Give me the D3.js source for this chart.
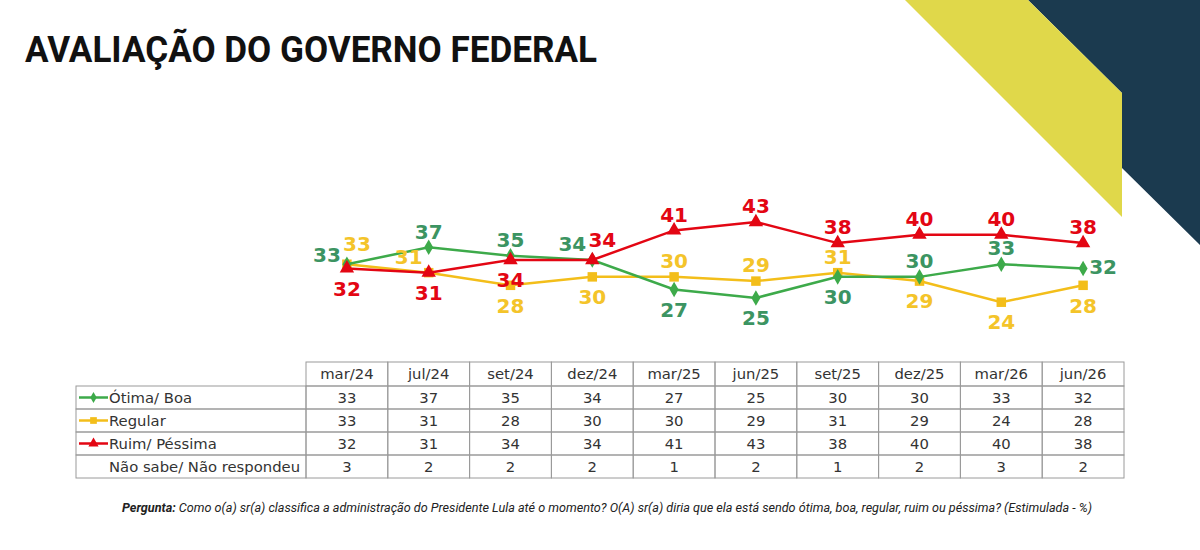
<!DOCTYPE html>
<html><head><meta charset="utf-8">
<script src="https://cdn.jsdelivr.net/npm/d3@7"></script>
<style>html,body{margin:0;padding:0;background:#fff;}svg{display:block;}</style>
</head><body>
<script>
const categories = ["mar/24","jul/24","set/24","dez/24","mar/25","jun/25","set/25","dez/25","mar/26","jun/26"];
const otimaBoa = [33,37,35,34,27,25,30,30,33,32];
const regular = [33,31,28,30,30,29,31,29,24,28];
const ruimPessima = [32,31,34,34,41,43,38,40,40,38];
const naoSabe = [3,2,2,2,1,2,1,2,3,2];
const seriesNames = ["Ótima/ Boa","Regular","Ruim/ Péssima","Não sabe/ Não respondeu"];
const title = "AVALIAÇÃO DO GOVERNO FEDERAL";
const questionLead = "Pergunta:";
const questionText = " Como o(a) sr(a) classifica a administração do Presidente Lula até o momento? O(A) sr(a) diria que ela está sendo ótima, boa, regular, ruim ou péssima? (Estimulada - %)";
// label placement codes per point
const placeGreen = ["l","t","t","tl","b","b","b","t","t","r"];
const placeYellow = ["tr","tl","b","b","t","t","t","b","b","b"];
const placeRed = ["b","b","b","tr","t","t","t","t","t","t"];

const W=1200,H=550;
const svg=d3.select("body").append("svg").attr("width",W).attr("height",H);

// decoration
svg.append("polygon").attr("points","1028,0 1200,0 1200,245 1122,168 1122,93").attr("fill","#1B3A4F");
svg.append("polygon").attr("points","905,0 1028,0 1122,93 1122,217").attr("fill","#E0D84A");

svg.append("text").attr("x",25).attr("y",62).text(title)
  .attr("font-family","Roboto").attr("font-weight",700).attr("font-size",36)
  .attr("textLength",572).attr("lengthAdjust","spacingAndGlyphs").attr("fill","#111");

const x=d3.scaleBand().domain(categories).range([306,1124]);
const cx=c=>x(c)+x.bandwidth()/2;
const y=d3.scaleLinear().domain([24,43]).range([302.2,222]);

const series=[
  {name:seriesNames[0],values:otimaBoa,line:"#3DAA4A",label:"#3C9462",sym:d3.symbolDiamond,size:70,place:placeGreen},
  {name:seriesNames[1],values:regular,line:"#F3BE1A",label:"#F4C42A",sym:d3.symbolSquare,size:90,place:placeYellow},
  {name:seriesNames[2],values:ruimPessima,line:"#E30613",label:"#E30613",sym:d3.symbolTriangle,size:90,place:placeRed}
];
const offs={t:[0,-16],b:[0,20],l:[-20,-9],r:[20,-2],tl:[-20,-16],tr:[10,-20]};

const line=d3.line().x((d,i)=>cx(categories[i])).y(d=>y(d));
const drawOrder=[1,0,2];
drawOrder.forEach(k=>{
  const s=series[k];
  svg.append("path").attr("d",line(s.values)).attr("fill","none").attr("stroke",s.line).attr("stroke-width",2.5);
  svg.selectAll(null).data(s.values).enter().append("path")
    .attr("d",d3.symbol().type(s.sym).size(s.size))
    .attr("transform",(d,i)=>`translate(${cx(categories[i])},${y(d)})`)
    .attr("fill",s.line);
});
drawOrder.forEach(k=>{
  const s=series[k];
  svg.selectAll(null).data(s.values).enter().append("text")
    .attr("x",(d,i)=>cx(categories[i])+offs[s.place[i]][0])
    .attr("y",(d,i)=>y(d)+offs[s.place[i]][1])
    .attr("dy","0.36em").attr("text-anchor","middle")
    .attr("font-family","DejaVu Sans").attr("font-weight",700).attr("font-size",20)
    .attr("fill",s.label).text(d=>d);
});

// table
const rowTop=[362,386,409,432,455], rowBottom=478, left=76;
const grid="#9a9a9a";
const fs=14.8;
const tg=svg.append("g");
categories.forEach(c=>{
  tg.append("rect").attr("x",x(c)).attr("y",rowTop[0]).attr("width",x.bandwidth()).attr("height",rowTop[1]-rowTop[0])
    .attr("fill","none").attr("stroke",grid).attr("stroke-width",1);
  tg.append("text").attr("x",cx(c)).attr("y",(rowTop[0]+rowTop[1])/2).attr("dy","0.35em").attr("text-anchor","middle")
    .attr("font-family","DejaVu Sans").attr("font-size",fs).attr("fill","#333").text(c);
});
const rows=[otimaBoa,regular,ruimPessima,naoSabe];
rows.forEach((vals,r)=>{
  const top=rowTop[r+1], bot=r<3?rowTop[r+2]:rowBottom, mid=(top+bot)/2;
  tg.append("rect").attr("x",left).attr("y",top).attr("width",306-left).attr("height",bot-top)
    .attr("fill","none").attr("stroke",grid);
  if(r<3){
    const s=series[r];
    tg.append("line").attr("x1",79).attr("x2",108).attr("y1",mid).attr("y2",mid).attr("stroke",s.line).attr("stroke-width",2.5);
    tg.append("path").attr("d",d3.symbol().type(s.sym).size(s.size*0.5)).attr("transform",`translate(93.5,${mid})`).attr("fill",s.line);
  }
  tg.append("text").attr("x",109).attr("y",mid).attr("dy","0.35em")
    .attr("font-family","DejaVu Sans").attr("font-size",fs).attr("fill","#333").text(seriesNames[r]);
  vals.forEach((v,i)=>{
    const c=categories[i];
    tg.append("rect").attr("x",x(c)).attr("y",top).attr("width",x.bandwidth()).attr("height",bot-top)
      .attr("fill","none").attr("stroke",grid);
    tg.append("text").attr("x",cx(c)).attr("y",mid).attr("dy","0.35em").attr("text-anchor","middle")
      .attr("font-family","DejaVu Sans").attr("font-size",fs).attr("fill","#333").text(v);
  });
});

// footnote
const fn=svg.append("text").attr("x",122).attr("y",512)
  .attr("font-family","Roboto").attr("font-style","italic").attr("font-size",12.5).attr("fill","#222")
  .attr("textLength",970).attr("lengthAdjust","spacingAndGlyphs");
fn.append("tspan").attr("font-weight",700).text(questionLead);
fn.append("tspan").text(questionText);
</script>
</body></html>
